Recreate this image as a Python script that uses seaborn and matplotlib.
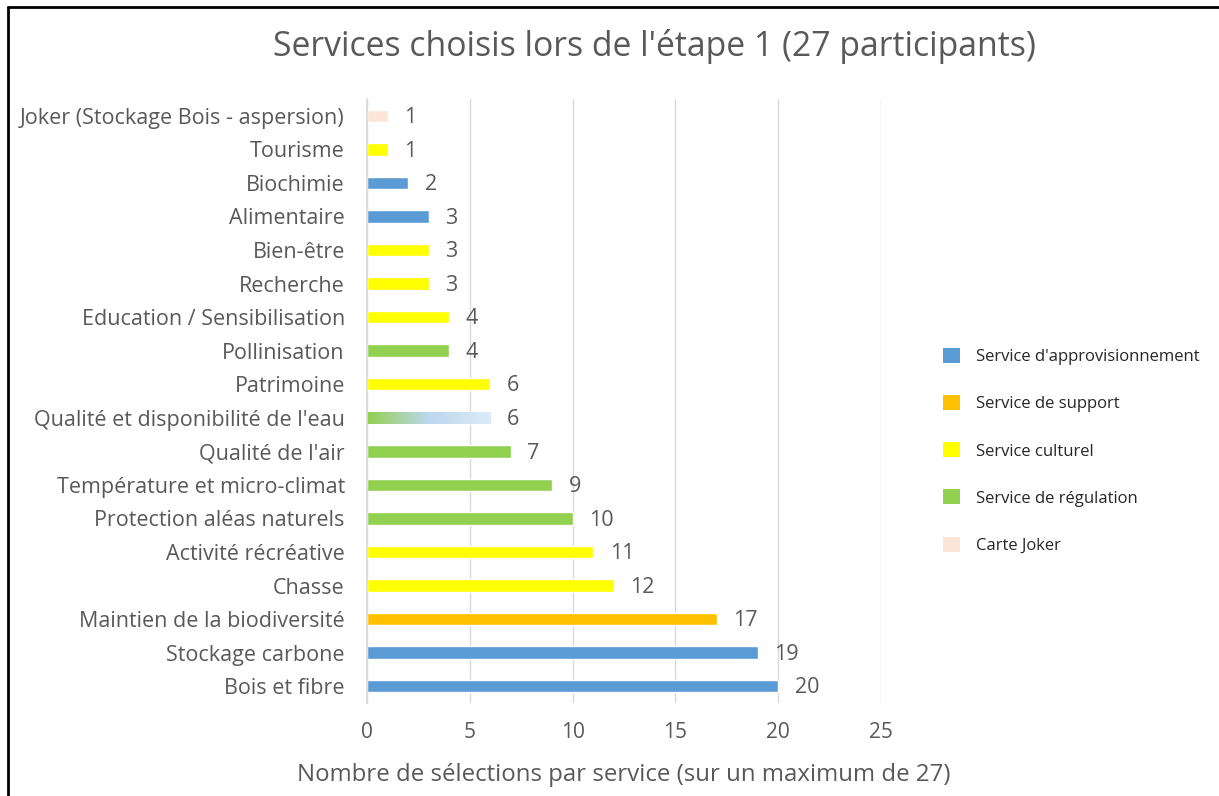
import matplotlib
matplotlib.use("Agg")
import matplotlib.pyplot as plt
import matplotlib.patches as mpatches
from matplotlib.lines import Line2D
import numpy as np
import pandas as pd
import seaborn as sns

categories = [
    "Joker (Stockage Bois - aspersion)", "Tourisme", "Biochimie", "Alimentaire",
    "Bien-être", "Recherche", "Education / Sensibilisation", "Pollinisation",
    "Patrimoine", "Qualité et disponibilité de l'eau", "Qualité de l'air",
    "Température et micro-climat", "Protection aléas naturels",
    "Activité récréative", "Chasse", "Maintien de la biodiversité",
    "Stockage carbone", "Bois et fibre",
]
values = [1, 1, 2, 3, 3, 3, 4, 4, 6, 6, 7, 9, 10, 11, 12, 17, 19, 20]
service_types = [
    "Carte Joker", "Service culturel", "Service d'approvisionnement",
    "Service d'approvisionnement", "Service culturel", "Service culturel",
    "Service culturel", "Service de régulation", "Service culturel",
    "Service de régulation", "Service de régulation", "Service de régulation",
    "Service de régulation", "Service culturel", "Service culturel",
    "Service de support", "Service d'approvisionnement",
    "Service d'approvisionnement",
]
legend_labels = ["Service d'approvisionnement", "Service de support",
                 "Service culturel", "Service de régulation", "Carte Joker"]
legend_colors = ["#5B9BD5", "#FFC000", "#FFFF00", "#92D050", "#FBE5D6"]
gradient_category = "Qualité et disponibilité de l'eau"
gradient_colors = ["#92D050", "#BDD7EE", "#DDEBF7"]

title = "Services choisis lors de l'étape 1 (27 participants)"
xlabel = "Nombre de sélections par service (sur un maximum de 27)"
xticks = [0, 5, 10, 15, 20, 25]

text_color = "#595959"
sns.set_theme(style="white")
plt.rcParams["font.family"] = ["Open Sans", "DejaVu Sans"]

df = pd.DataFrame({"cat": categories, "val": values, "type": service_types})
palette = dict(zip(legend_labels, legend_colors))

fig = plt.figure(figsize=(12.19, 7.96), dpi=100)
ax = fig.add_axes([367 / 1219, 1 - 703 / 796, (881 - 367) / 1219, (703 - 99) / 796])

sns.barplot(data=df, x="val", y="cat", hue="type", palette=palette,
            dodge=False, orient="h", width=0.37, ax=ax, legend=False,
            order=categories, saturation=1)

ax.set_xlim(0, 25)
ax.set_xticks(xticks)
ax.xaxis.grid(True, color="#D9D9D9", linewidth=1)
ax.set_axisbelow(True)
for s in ["top", "right", "bottom"]:
    ax.spines[s].set_visible(False)
ax.spines["left"].set_color("#D9D9D9")
ax.tick_params(axis="y", length=0, pad=16, labelsize=15.5, labelcolor=text_color)
ax.tick_params(axis="x", length=0, pad=14, labelsize=15, labelcolor=text_color)
ax.set_ylabel("")
ax.set_xlabel(xlabel, fontsize=17.3, color=text_color, labelpad=14)

# gradient bar
gi = categories.index(gradient_category)
bars = [p for p in ax.patches if isinstance(p, mpatches.Rectangle) and p.get_height() > 0]
for p in bars:
    cy = p.get_y() + p.get_height() / 2
    if abs(cy - gi) < 1e-6 and p.get_width() > 0:
        x0, y0 = p.get_x(), p.get_y()
        w, h = p.get_width(), p.get_height()
        cmap = matplotlib.colors.LinearSegmentedColormap.from_list("g", gradient_colors)
        grad = np.linspace(0, 1, 256).reshape(1, -1)
        im = ax.imshow(grad, cmap=cmap, aspect="auto",
                       extent=(x0, x0 + w, y0 + h, y0), zorder=p.get_zorder() + 0.1)
        im.set_clip_path(p)
ax.set_ylim(len(categories) - 0.5, -0.5)
ax.set_xlim(0, 25)

for i, v in enumerate(values):
    ax.text(v + 0.8, i + 0.05, str(v), va="center", ha="left", fontsize=15.5, color=text_color)

fig.text(0.537, 1 - 47 / 796, title, ha="center", va="center",
         fontsize=24.3, color=text_color)

handles = [mpatches.Patch(facecolor=c, edgecolor="none") for c in legend_colors]
fig.legend(handles, legend_labels, loc="upper left",
           bbox_to_anchor=(928 / 1219, 1 - 333 / 796), frameon=False,
           fontsize=12, labelspacing=1.8, handlelength=1.0, handleheight=1.0,
           handletextpad=1.0)

# frame lines (left and top)
fig.add_artist(Line2D([8 / 1219, 8 / 1219], [0, 1 - 7 / 796], color="black",
                      linewidth=2, transform=fig.transFigure))
fig.add_artist(Line2D([8 / 1219, 1], [1 - 7 / 796, 1 - 7 / 796], color="black",
                      linewidth=2, transform=fig.transFigure))

fig.savefig("out.png", dpi=100, facecolor="white")
